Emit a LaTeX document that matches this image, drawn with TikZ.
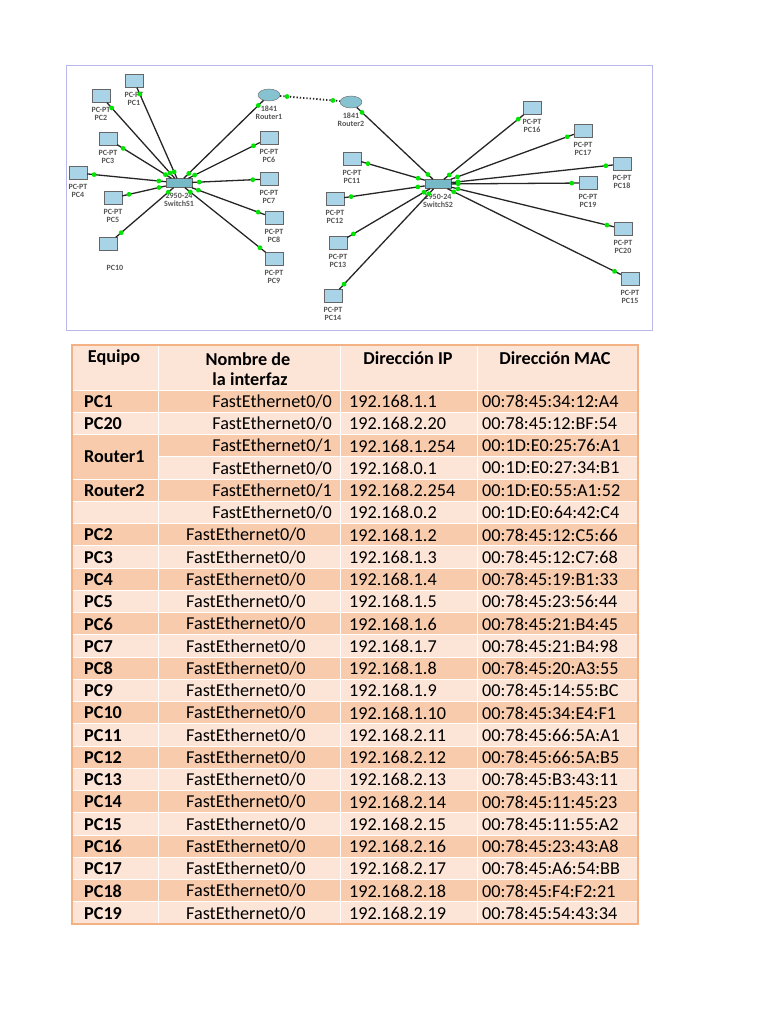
\documentclass[tikz,border=0pt]{standalone}
\usepackage{fontspec}
\setmainfont{Carlito}
\usetikzlibrary{decorations.markings}
\usetikzlibrary{positioning}
\usepgflibrary{shapes.geometric}
\definecolor{rowdark}{HTML}{F8CBAD}
\definecolor{rowlight}{HTML}{FCE4D6}
\definecolor{rimline}{HTML}{F4B183}
\definecolor{screen}{HTML}{A9D3E6}
\definecolor{devlab}{HTML}{555555}
\begin{document}
\begin{tikzpicture}
  [x=1pt,y=-1pt,
   pc/.style={shape=rectangle,draw=gray!80!black,fill=screen,inner sep=0pt,
         minimum width=18pt,minimum height=13pt},
   router/.style={shape=ellipse,draw=gray!80!black,fill=screen!80!teal,inner sep=0pt,
         minimum width=22pt,minimum height=12pt},
   switch/.style={shape=rectangle,draw=gray!80!black,fill=screen!70!teal,inner sep=0pt,
         minimum width=26pt,minimum height=9pt},
   devtext/.style={font=\fontsize{8}{8.5}\selectfont\bfseries,text=devlab,align=center},
   link/.style={draw=black!85,line width=1.3pt,postaction={decorate},
         decoration={markings,
           mark=at position 7pt with {\fill[green!90!black] circle (2.4pt);},
           mark=at position -7pt with {\fill[green!90!black] circle (2.4pt);}}},
   cell/.style={font=\fontsize{18.2}{20}\selectfont,inner sep=0pt},
   head/.style={cell,font=\fontsize{18.2}{20}\selectfont\bfseries}
  ]
  \useasboundingbox (0,0) rectangle (768,1024);
  \draw[color=gray!40!blue!35,line width=1pt] (66,66) rectangle (652,330);

  % network, left side
  \node (s1) [switch] at (179,183) {};
  \node [devtext,below=2pt of s1] {2950-24\\SwitchS1};
  \node (r1) [router] at (269,95) {};
  \node [devtext,below=1pt of r1] {1841\\Router1};
  \node (r2) [router] at (351,102) {};
  \node [devtext,below=1pt of r2] {1841\\Router2};
  \node (s2) [switch] at (438,184) {};
  \node [devtext,below=2pt of s2] {2950-24\\SwitchS2};

  \foreach \name/\x/\y in {pc1/134/81, pc2/101/96, pc3/108/139, pc4/78/173, pc5/113/198,
      pc6/269/138, pc7/269/179, pc8/274/218, pc9/274/259,
      pc11/352/159, pc12/335/199, pc13/338/243, pc14/333/296,
      pc16/532/108, pc17/583/131, pc18/622/164, pc19/588/183, pc20/623/229, pc15/630/279}
    \node (\name) [pc] at (\x,\y) {};
  \node (pc10) [pc] at (108,244) {};
  \node [devtext] at (115,268) {PC10};

  \foreach \name/\lab in {pc1/PC1, pc2/PC2, pc3/PC3, pc4/PC4, pc5/PC5, pc6/PC6, pc7/PC7,
      pc8/PC8, pc9/PC9, pc11/PC11, pc12/PC12, pc13/PC13, pc14/PC14, pc15/PC15,
      pc16/PC16, pc17/PC17, pc18/PC18, pc19/PC19, pc20/PC20}
    \node [devtext,below=1pt of \name] {PC-PT\\\lab};

  \foreach \dev in {pc1,pc2,pc3,pc4,pc5,pc10,r1,pc6,pc7,pc8,pc9}
    \path [link] (s1) -- (\dev);
  \foreach \dev in {r2,pc11,pc12,pc13,pc14,pc16,pc17,pc18,pc19,pc20,pc15}
    \path [link] (s2) -- (\dev);
  \path [link,dotted,line width=1.8pt] (r1) -- (r2);

  % table
  \fill[rowlight] (72,345) rectangle (638,390);
  \foreach \n/\f/\p/\m [count=\k from 0] in {
      PC1/0/192.168.1.1/00:78:45:34:12:A4,
      PC20/0/192.168.2.20/00:78:45:12:BF:54,
      {}/1/192.168.1.254/00:1D:E0:25:76:A1,
      {}/0/192.168.0.1/00:1D:E0:27:34:B1,
      Router2/1/192.168.2.254/00:1D:E0:55:A1:52,
      {}/0/192.168.0.2/00:1D:E0:64:42:C4,
      PC2/0/192.168.1.2/00:78:45:12:C5:66,
      PC3/0/192.168.1.3/00:78:45:12:C7:68,
      PC4/0/192.168.1.4/00:78:45:19:B1:33,
      PC5/0/192.168.1.5/00:78:45:23:56:44,
      PC6/0/192.168.1.6/00:78:45:21:B4:45,
      PC7/0/192.168.1.7/00:78:45:21:B4:98,
      PC8/0/192.168.1.8/00:78:45:20:A3:55,
      PC9/0/192.168.1.9/00:78:45:14:55:BC,
      PC10/0/192.168.1.10/00:78:45:34:E4:F1,
      PC11/0/192.168.2.11/00:78:45:66:5A:A1,
      PC12/0/192.168.2.12/00:78:45:66:5A:B5,
      PC13/0/192.168.2.13/00:78:45:B3:43:11,
      PC14/0/192.168.2.14/00:78:45:11:45:23,
      PC15/0/192.168.2.15/00:78:45:11:55:A2,
      PC16/0/192.168.2.16/00:78:45:23:43:A8,
      PC17/0/192.168.2.17/00:78:45:A6:54:BB,
      PC18/0/192.168.2.18/00:78:45:F4:F2:21,
      PC19/0/192.168.2.19/00:78:45:54:43:34}
  {
    \pgfmathsetmacro\top{390+22.25*\k}
    \pgfmathsetmacro\mid{\top+11.4}
    \pgfmathtruncatemacro\odd{mod(\k,2)}
    \ifnum\odd=0 \def\shade{rowdark}\else\def\shade{rowlight}\fi
    \fill[\shade] (72,\top) rectangle (638,\top+22.25);
    \draw[white,line width=1pt] (72,\top) -- (638,\top);
    \node (eq\k) [head,anchor=west] at (84,\mid) {\n};
    \ifnum\k<6
      \node (if\k) [cell,anchor=east] at (332,\mid) {FastEthernet0/\f};
    \else
      \node (if\k) [cell,anchor=west] at (186,\mid) {FastEthernet0/\f};
    \fi
    \node (ip\k) [cell,anchor=west] at (349,\mid) {\p};
    \node (mac\k) [cell,anchor=west] at (482,\mid) {\m};
  }
  \fill[rowdark] (73,435) rectangle (157.5,478.5);
  \node (eqr1) [head,anchor=west] at (84,457) {Router1};
  \foreach \x in {158,340,477}
    \draw[white,line width=1pt] (\x,390) -- (\x,924);
  \draw[white,line width=1pt] (340,345) -- (340,390) (477,345) -- (477,390) (158,345) -- (158,390);
  \draw[rimline,line width=1.5pt] (72,345) rectangle (638,924);

  \node (h1) [head] at (114,358) {Equipo};
  \node (h2) [head,align=center] at (248,369) {Nombre de\\\hspace*{4pt}la interfaz};
  \node (h3) [head] at (408,358) {Dirección IP};
  \node (h4) [head] at (555,358) {Dirección MAC};
\end{tikzpicture}
\end{document}
